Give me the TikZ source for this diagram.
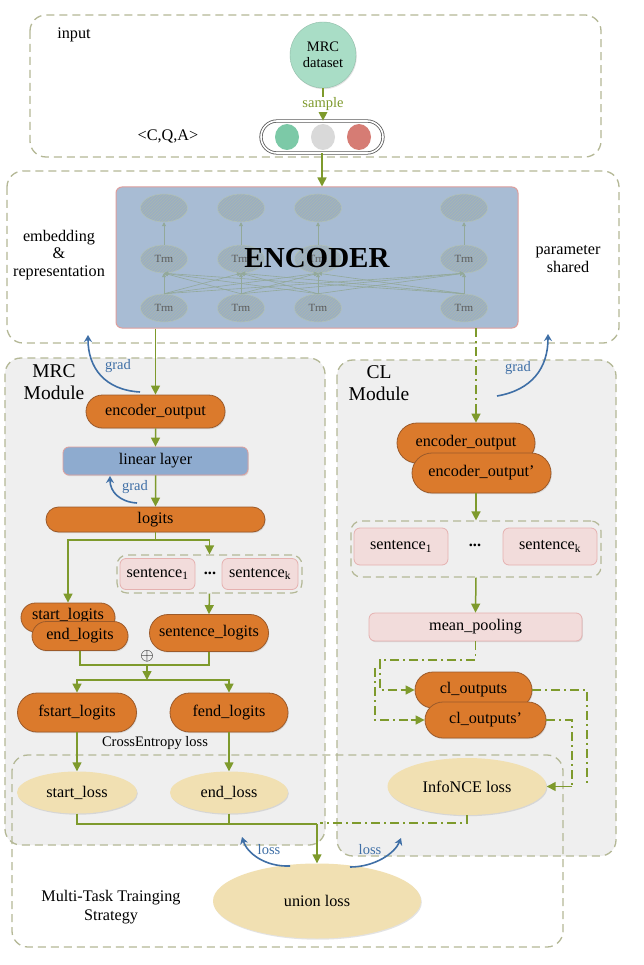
\documentclass[tikz,border=0pt]{standalone}
\usepackage{fontspec}
\setmainfont{Liberation Serif}
\usetikzlibrary{arrows.meta,shapes.geometric,shapes.misc,patterns,shadows}
\definecolor{gline}{HTML}{7E9A2C}
\definecolor{dashc}{HTML}{B4B896}
\definecolor{orangec}{HTML}{DB7A2C}
\definecolor{orangeb}{HTML}{9C5A2A}
\definecolor{bluegrad}{HTML}{3F6FA6}
\definecolor{encfill}{HTML}{A8BCD4}
\definecolor{pinkb}{HTML}{DE9E9C}
\definecolor{linfill}{HTML}{8EABCF}
\definecolor{sentfill}{HTML}{F2DCDB}
\definecolor{lossfill}{HTML}{F1E0B2}
\definecolor{modfill}{HTML}{EFEFEF}
\definecolor{mrcfill}{HTML}{A9DDC6}
\definecolor{trmline}{HTML}{93A99A}
\definecolor{cgreen}{HTML}{7CC9A7}
\definecolor{cgray}{HTML}{D9D9D9}
\definecolor{cred}{HTML}{D67C74}
\newcommand\fmain{\fontsize{16.2}{18.5}\selectfont}
\newcommand\fsmall{\fontsize{14.5}{16.5}\selectfont}
\newcommand\fbig{\fontsize{19.5}{22}\selectfont}
\tikzset{
  dbox/.style={draw=dashc, line width=1.3pt, dash pattern=on 8pt off 5pt, rounded corners=16pt},
  grp/.style={draw=dashc, line width=1.2pt, dash pattern=on 8pt off 5pt, rounded corners=10pt, inner sep=0pt},
  shad/.style={drop shadow={opacity=0.22, shadow xshift=0.8pt, shadow yshift=-1.2pt}},
  capn/.style={rounded rectangle, fill=orangec, draw=orangeb, line width=0.8pt, inner sep=0pt, font=\fmain, shad},
  sent/.style={rectangle, rounded corners=6pt, fill=sentfill, draw=pinkb!80, line width=0.8pt, inner sep=0pt, font=\fmain},
  lossn/.style={ellipse, fill=lossfill, draw=none, inner sep=0pt, font=\fmain, shad},
  trm/.style={ellipse, minimum width=47pt, minimum height=28pt, inner sep=0pt, draw=trmline!70, line width=0.5pt,
     preaction={fill=encfill!92!black}, pattern=north east lines, pattern color=trmline!80, text=gray!70!black, font=\fontsize{11}{12}\selectfont},
  ln/.style={draw=gline, line width=1.5pt},
  arr/.style={draw=gline, line width=1.5pt, -{Triangle[width=9pt,length=9pt]}},
  dd/.style={draw=gline, line width=1.4pt, dash pattern=on 9pt off 4pt on 2pt off 4pt},
  gradarr/.style={draw=bluegrad, line width=1.6pt, -{Stealth[width=8pt,length=7pt]}},
  gtxt/.style={text=bluegrad, font=\fsmall},
  ttxt/.style={font=\fmain, align=center},
  dotc/.style={ellipse, minimum width=24pt, minimum height=26pt, inner sep=0pt},
  trmarr/.style={draw=trmline, line width=0.6pt, -{Triangle[width=4pt,length=4pt]}}
}
\begin{document}
\begin{tikzpicture}[x=1pt,y=-1pt]
\useasboundingbox (0,0) rectangle (644,965);
\fill[white] (0,0) rectangle (644,965);

% ---------- outer boxes ----------
\draw[dbox] (30,15) rectangle (601,157);
\draw[dbox] (7,171) rectangle (619,343);
\filldraw[dbox, fill=modfill] (5,358) rectangle (325,845);
\filldraw[dbox, fill=modfill] (337,360) rectangle (616,856);
\draw[dbox] (12,755) rectangle (563,947);

% ---------- input ----------
\node[ttxt] (inputlbl) at (74,35) {input};
\node[circle, fill=mrcfill, draw=mrcfill!85!black, line width=0.4pt, minimum size=66pt, inner sep=0pt, align=center, font=\fsmall, shad] (mrc) at (323,55) {MRC\\[-1pt]dataset};
\node[rounded rectangle, draw=gray!70!black, double=white, double distance=1.6pt, line width=0.8pt, fill=white, minimum width=122pt, minimum height=32pt, inner sep=0pt] (pill) at (322,137) {};
\node[dotc, fill=cgreen] (c1) at (287,137) {};
\node[dotc, fill=cgray] (c2) at (323,137) {};
\node[dotc, fill=cred] (c3) at (359,137) {};
\node[ttxt] (cqa) at (168,136) {<C,Q,A>};

% ---------- encoder ----------
\node[draw=pinkb, fill=encfill, rounded corners=6pt, minimum width=402pt, minimum height=141pt, line width=1pt, inner sep=0pt] (enc) at (317,257.5) {};
\foreach \c/\x in {1/164,2/241,3/318,4/464}{
  \node[trm] (top\c) at (\x,208) {};
  \node[trm] (mid\c) at (\x,259) {Trm};
  \node[trm] (bot\c) at (\x,308) {Trm};
  \draw[trmarr] (mid\c) -- (top\c);
}
\foreach \a in {1,2,3,4}{
  \foreach \b in {1,2,3,4}{
    \draw[trmarr] (bot\a.north) -- (mid\b.south);
  }
}
\node[font=\fontsize{29}{32}\selectfont\bfseries] (enctxt) at (317,258) {ENCODER};
\node[ttxt] (embtxt) at (59,255) {embedding\\[-1pt]\&\\[-1pt]representation};
\node[ttxt] (partxt) at (568,259) {parameter\\[-1pt]shared};

% ---------- MRC module ----------
\node[font=\fbig, align=center] (mrcmod) at (54,382) {MRC\\Module};
\node[capn, minimum width=139pt, minimum height=33pt] (eo1) at (155.5,411.5) {encoder\_output};
\node[rectangle, rounded corners=6pt, fill=linfill, draw=pinkb, line width=0.8pt, minimum width=185pt, minimum height=28pt, inner sep=0pt, font=\fmain, shad] (lin) at (155.5,461) {linear layer};
\node[capn, minimum width=219pt, minimum height=25pt] (logits) at (155.5,519.5) {logits};
\node[grp, minimum width=185pt, minimum height=38pt] (sg1) at (209.5,574) {};
\node[sent, minimum width=75pt, minimum height=31pt] (s11) at (157.5,574) {sentence\textsubscript{1}};
\node[font=\fmain\bfseries] (dots1) at (210,573) {...};
\node[sent, minimum width=76pt, minimum height=31pt] (s1k) at (260,574) {sentence\textsubscript{k}};
\node[capn, minimum width=94pt, minimum height=29pt, text depth=7pt] (startl) at (68,617.5) {start\_logits};
\node[capn, minimum width=96pt, minimum height=29pt] (endl) at (80,636) {end\_logits};
\node[capn, minimum width=119pt, minimum height=37pt] (sentl) at (209,633) {sentence\_logits};
\node[inner sep=0pt, font=\fontsize{19}{19}\selectfont] (plus) at (147,656) {$\oplus$};
\node[capn, minimum width=119pt, minimum height=39pt] (fstart) at (77,712.5) {fstart\_logits};
\node[capn, minimum width=118pt, minimum height=39pt] (fend) at (229,712.5) {fend\_logits};
\node[font=\fsmall] (ce) at (155,743) {CrossEntropy loss};
\node[lossn, minimum width=120pt, minimum height=42pt] (startloss) at (77,792.5) {start\_loss};
\node[lossn, minimum width=118pt, minimum height=42pt] (endloss) at (229,792.5) {end\_loss};

% ---------- CL module ----------
\node[font=\fbig, align=center] (clmod) at (379,383) {CL\\Module};
\node[capn, minimum width=138pt, minimum height=40pt] (eo2) at (466,443) {encoder\_output};
\node[capn, minimum width=139pt, minimum height=40pt] (eo2p) at (481.5,473) {encoder\_output’};
\node[grp, minimum width=250pt, minimum height=56pt] (sg2) at (476,549) {};
\node[sent, minimum width=94pt, minimum height=37pt] (s21) at (401,546.5) {sentence\textsubscript{1}};
\node[font=\fmain\bfseries] (dots2) at (475,545) {...};
\node[sent, minimum width=94pt, minimum height=37pt] (s2k) at (550,546.5) {sentence\textsubscript{k}};
\node[sent, minimum width=213pt, minimum height=28pt, shad] (meanp) at (475.5,627) {mean\_pooling};
\node[capn, minimum width=117pt, minimum height=36pt] (clo) at (473.5,690) {cl\_outputs};
\node[capn, minimum width=121pt, minimum height=36pt] (clop) at (485.5,720) {cl\_outputs’};
\node[lossn, minimum width=159pt, minimum height=57pt] (infonce) at (467,786.5) {InfoNCE loss};

% ---------- bottom ----------
\node[lossn, minimum width=208pt, minimum height=75pt] (union) at (317,901) {union loss};
\node[ttxt] (mts) at (111,907) {Multi-Task Trainging\\Strategy};

% ---------- connectors: input ----------
\draw[arr] (mrc.south) -- node[fill=white, inner sep=1pt, text=gline, font=\fsmall] (samplelbl) {sample} (pill.north -| mrc.south);
\draw[arr] (pill.south) -- (pill.south |- enc.north);

% ---------- connectors: MRC ----------
\draw[arr] (eo1.north |- enc.south) -- (eo1.north);
\draw[arr] (eo1) -- (lin);
\draw[arr] (lin) -- (logits);
\coordinate (sp1) at (155.5,540);
\draw[ln] (logits.south) -- (sp1);
\draw[arr] (sp1) -| (startl.north);
\draw[arr] (sp1) -| (sg1.north);
\draw[arr] (sg1.south) -- (sentl.north);
\coordinate (j1) at (147,665);
\coordinate (j2) at (147,680);
\draw[ln] (endl.south) |- (j1) -| (sentl.south);
\draw[arr] (j1) -- (j2);
\draw[arr] (j2) -| (fstart.north);
\draw[arr] (j2) -| (fend.north);
\draw[arr] (fstart.south) -- (startloss.north);
\draw[arr] (fend.south) -- (endloss.north);
\coordinate (j3) at (317,824);
\draw[ln] (startloss.south) |- (j3);
\draw[ln] (endloss.south) -- (endloss.south |- j3);
\draw[arr] (j3) -- (union.north);

% ---------- connectors: CL ----------
\coordinate (encR) at (476,328);
\coordinate (encR2) at (476,410);
\draw[dd] (encR) -- (encR2);
\draw[arr] (encR2) -- (eo2.north -| encR);
\draw[arr] (sg2.north |- eo2p.south) -- (sg2.north);
\draw[arr] (sg2.south) -- (meanp.north);
\coordinate (k1) at (380,660);
\coordinate (k2) at (375,668);
\draw[dd] (meanp.south) |- (k1) |- ([xshift=-14pt]clo.west);
\draw[arr] ([xshift=-14pt]clo.west) -- (clo.west);
\draw[dd] (k2) |- ([xshift=-14pt]clop.west);
\draw[arr] ([xshift=-14pt]clop.west) -- (clop.west);
\coordinate (q1) at (587,786);
\coordinate (q2) at (572,786.5);
\draw[dd] (clo.east) -| (q1);
\draw[dd] (clop.east) -| (q2);
\draw[arr] (q2) -- (infonce.east);
\coordinate (j4) at (320,823);
\draw[dd] (infonce.south) |- (j4);

% ---------- gradient / loss arrows ----------
\coordinate (g1a) at (140,392); \coordinate (g1b) at (88,335);
\draw[gradarr] (g1a) .. controls (105,390) and (88,368) .. (g1b);
\node[gtxt] (g1t) at (118,366) {grad};
\coordinate (g2a) at (497,396); \coordinate (g2b) at (548,334);
\draw[gradarr] (g2a) .. controls (532,390) and (548,368) .. (g2b);
\node[gtxt] (g2t) at (518,368) {grad};
\coordinate (g3a) at (137,503); \coordinate (g3b) at (110,476);
\draw[gradarr] (g3a) .. controls (120,502) and (110,492) .. (g3b);
\node[gtxt] (g3t) at (135,487) {grad};
\coordinate (l1a) at (290,866); \coordinate (l1b) at (242,837);
\draw[gradarr] (l1a) .. controls (265,867) and (247,853) .. (l1b);
\node[gtxt] (l1t) at (269,850) {loss};
\coordinate (l2a) at (350,867); \coordinate (l2b) at (401,838);
\draw[gradarr] (l2a) .. controls (375,867) and (395,853) .. (l2b);
\node[gtxt] (l2t) at (370,850) {loss};
\end{tikzpicture}
\end{document}
